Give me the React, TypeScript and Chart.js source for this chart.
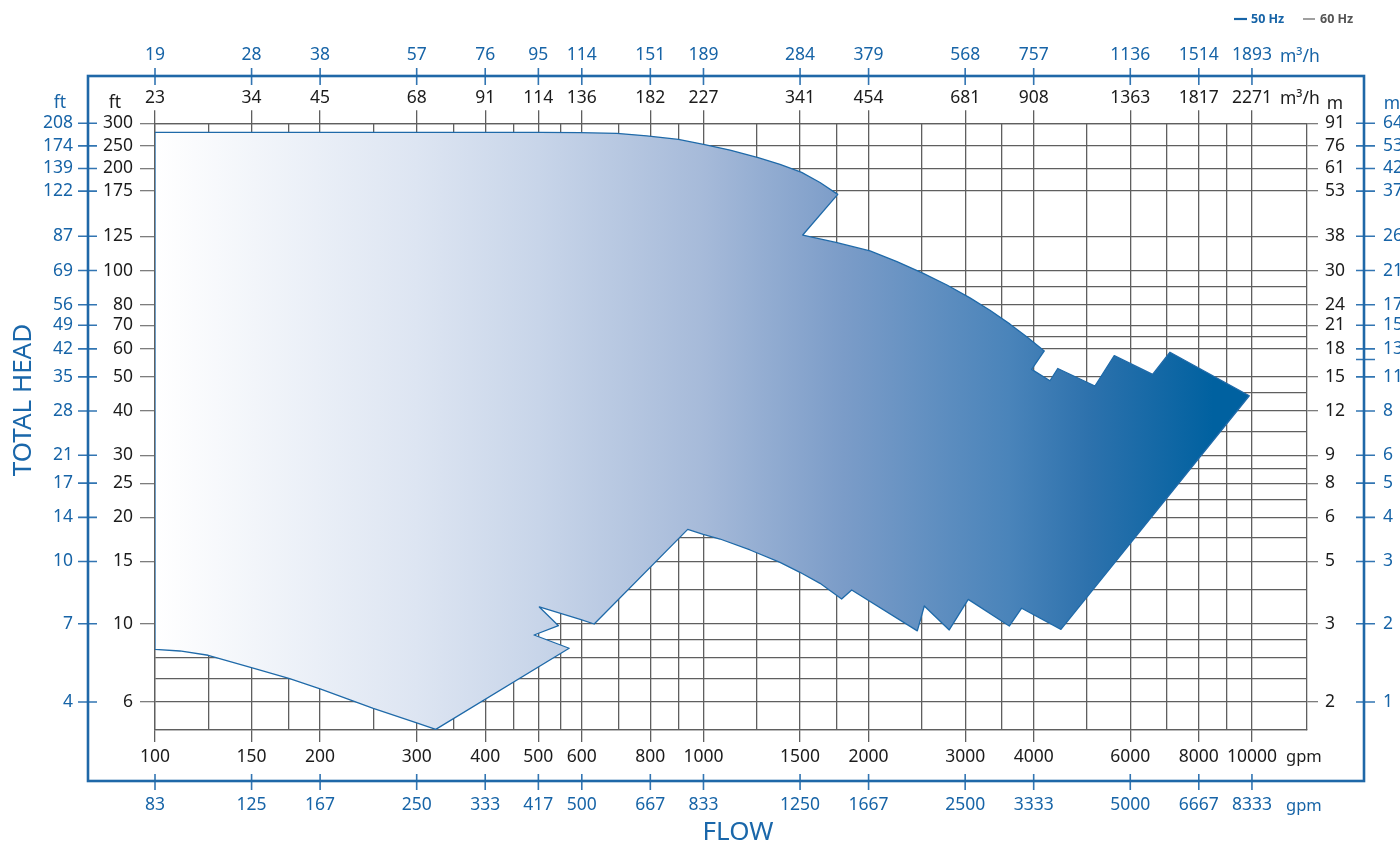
import React, { useEffect, useRef } from 'react';
import { Chart, registerables, LogarithmicScale } from 'chart.js';

// ---------------- data ----------------
// Operating envelope, clockwise, 60 Hz flow in gpm and head in ft
const ENVELOPE_FLOW_GPM = [
  100, 503, 596, 695, 788, 900, 1000, 1118, 1258, 1379, 1510, 1631, 1757,
  1517, 1744, 2012, 2253, 2516, 2779, 3061, 3329, 3622, 3890, 4182,
  3966, 4283, 4425, 5173, 5610, 6590, 7088, 9888, 4485, 3803, 3610, 3039, 2806, 2527,
  2454, 1863, 1786, 1631, 1499, 1379, 1216, 1072, 999, 936, 632, 596, 502, 544, 491,
  569, 325, 300, 250, 200, 176, 151, 125, 111, 100, 100,
];
const ENVELOPE_HEAD_FT = [
  280, 280, 279.2, 277.8, 272.4, 264.4, 253.4, 240.8, 223.8, 209.3, 195.7, 184.5, 171.4,
  126.4, 120.1, 113.6, 106.0, 98.2, 91.0, 83.7, 77.2, 70.5, 64.8, 59.2,
  52.5, 48.75, 52.8, 47.1, 57.4, 50.8, 58.7, 44.2, 9.64, 11.06, 9.85, 11.72, 9.6, 11.22,
  9.54, 12.46, 11.75, 13.01, 13.98, 14.92, 16.17, 17.37, 17.91, 18.5, 9.98, 10.29, 11.15, 9.87, 9.29,
  8.52, 5.02, 5.24, 5.76, 6.54, 6.99, 7.48, 8.14, 8.37, 8.46, 280,
];

// Flow axis
const FLOW_MIN_GPM = 100;
const FLOW_MAX_GPM = 12600;
const FLOW_GRID_GPM = [100, 125, 150, 175, 200, 250, 300, 350, 400, 450, 500, 550, 600, 700, 800, 900,
  1000, 1250, 1500, 1750, 2000, 2500, 3000, 3500, 4000, 5000, 6000, 7000, 8000, 9000, 10000];
const FLOW_TICKS_GPM = [100, 150, 200, 300, 400, 500, 600, 800, 1000, 1500, 2000, 3000, 4000, 6000, 8000, 10000];
const FLOW_LABELS_GPM_60 = ['100', '150', '200', '300', '400', '500', '600', '800', '1000', '1500', '2000', '3000', '4000', '6000', '8000', '10000'];
const FLOW_LABELS_GPM_50 = ['83', '125', '167', '250', '333', '417', '500', '667', '833', '1250', '1667', '2500', '3333', '5000', '6667', '8333'];
const FLOW_LABELS_M3H_60 = ['23', '34', '45', '68', '91', '114', '136', '182', '227', '341', '454', '681', '908', '1363', '1817', '2271'];
const FLOW_LABELS_M3H_50 = ['19', '28', '38', '57', '76', '95', '114', '151', '189', '284', '379', '568', '757', '1136', '1514', '1893'];

// Head axis
const HEAD_MIN_FT = 5;
const HEAD_MAX_FT = 300;
const HEAD_GRID_FT = [5, 6, 7, 8, 9, 10, 12.5, 15, 17.5, 20, 22.5, 25, 27.5, 30, 35, 40, 45, 50, 60, 65, 70, 80, 90, 100, 125, 175, 200, 250, 300];
const HEAD_TICKS_FT = [300, 250, 200, 175, 125, 100, 80, 70, 60, 50, 40, 30, 25, 20, 15, 10, 6];
const HEAD_LABELS_FT_60 = ['300', '250', '200', '175', '125', '100', '80', '70', '60', '50', '40', '30', '25', '20', '15', '10', '6'];
const HEAD_LABELS_FT_50 = ['208', '174', '139', '122', '87', '69', '56', '49', '42', '35', '28', '21', '17', '14', '10', '7', '4'];
const HEAD_LABELS_M_60 = ['91', '76', '61', '53', '38', '30', '24', '21', '18', '15', '12', '9', '8', '6', '5', '3', '2'];
const HEAD_TICKS_M50_FT = [300, 250, 200, 175, 125, 100, 80, 70, 60, 56, 50, 40, 30, 25, 20, 15, 10, 6];
const HEAD_LABELS_M_50 = ['64', '53', '42', '37', '26', '21', '17', '15', '13', '', '11', '8', '6', '5', '4', '3', '2', '1'];

// The printed head axis is logarithmic up to 125 ft, then the stops below are evenly spaced
const HEAD_WARP_STOPS_FT = [125, 150, 175, 200, 250, 300];
const HEAD_WARP_STEP_DEC = 0.064;

// ---------------- styles ----------------
const FONT = '"Noto Sans", "DejaVu Sans", sans-serif';
const BLACK = '#1c1c1c';
const BLUE = '#1764a7';
const BLUE_TICK = '#3275b2';
const GRID = '#5f5f5f';
const TICK_GREY = '#7d7d7d';
const FILL_STOP_GPM = [100, 300, 500, 1000, 1800, 3600, 5000, 8500];
const FILL_STOP_COLOR = ['#ffffff', '#dde5f2', '#c8d5e9', '#a6bad9', '#7b9cc8', '#4a84ba', '#2e72ad', '#0061a0'];

function warpHead(v: number): number {
  const s = HEAD_WARP_STOPS_FT;
  if (v <= s[0]) return Math.log10(v);
  const base = Math.log10(s[0]);
  for (let i = 0; i < s.length - 1; i++) {
    if (v <= s[i + 1] || i === s.length - 2) {
      return base + HEAD_WARP_STEP_DEC * (i + (v - s[i]) / (s[i + 1] - s[i]));
    }
  }
  return Math.log10(v);
}
function unwarpHead(u: number): number {
  const s = HEAD_WARP_STOPS_FT;
  const base = Math.log10(s[0]);
  if (u <= base) return Math.pow(10, u);
  const k = (u - base) / HEAD_WARP_STEP_DEC;
  const i = Math.min(Math.floor(k), s.length - 2);
  return s[i] + (k - i) * (s[i + 1] - s[i]);
}

class WarpedLogScale extends LogarithmicScale {
  static id = 'warpedLog';
  static defaults = {};
  getPixelForValue(value: any) {
    if (value === undefined || value === 0) value = (this as any).min;
    if (value === null || isNaN(value)) return NaN;
    const a = warpHead((this as any).min);
    const b = warpHead((this as any).max);
    return this.getPixelForDecimal((warpHead(value) - a) / (b - a));
  }
  getValueForPixel(pixel: number) {
    const a = warpHead((this as any).min);
    const b = warpHead((this as any).max);
    return unwarpHead(a + this.getDecimalForPixel(pixel) * (b - a));
  }
}

Chart.register(...registerables, WarpedLogScale as any);

function labelFor(ticks: number[], labels: string[]) {
  return (v: any) => {
    const i = ticks.indexOf(Number(v));
    return i >= 0 ? labels[i] : '';
  };
}
function setTicks(values: number[]) {
  return (s: any) => {
    s.ticks = values.map((value) => ({ value }));
  };
}
const tickFont = { family: FONT, size: 17.5 };

function flowAxis(position: string, weight: number, size: number, labels: string[], color: string, padding: number, black: boolean, onArea: boolean) {
  return {
    type: 'logarithmic',
    position,
    weight,
    min: FLOW_MIN_GPM,
    max: FLOW_MAX_GPM,
    afterBuildTicks: setTicks(onArea ? FLOW_GRID_GPM : FLOW_TICKS_GPM),
    afterFit: (s: any) => { s.height = size; },
    ticks: {
      autoSkip: false, maxRotation: 0, minRotation: 0, padding, color, font: tickFont,
      callback: labelFor(FLOW_TICKS_GPM, labels),
    },
    grid: black
      ? {
          display: true,
          drawOnChartArea: onArea,
          color: GRID,
          lineWidth: 1.3,
          tickLength: position === 'top' ? 13 : 12,
          tickColor: (c: any) => (c.tick && FLOW_TICKS_GPM.includes(c.tick.value) ? GRID : 'rgba(0,0,0,0)'),
        }
      : { display: false, drawTicks: false },
    border: black ? { display: true, color: GRID, width: 1.3 } : { display: false },
  };
}

function headAxis(position: string, weight: number, size: number, ticks: number[], labels: string[], color: string, padding: number, black: boolean, onArea: boolean) {
  return {
    type: 'warpedLog',
    position,
    weight,
    min: HEAD_MIN_FT,
    max: HEAD_MAX_FT,
    afterBuildTicks: setTicks(onArea ? HEAD_GRID_FT : ticks),
    afterFit: (s: any) => { s.width = size; },
    ticks: {
      autoSkip: false, padding, color, font: tickFont,
      callback: labelFor(ticks, labels),
    },
    grid: black
      ? {
          display: true,
          drawOnChartArea: onArea,
          color: GRID,
          lineWidth: 1.3,
          tickLength: position === 'left' ? 15 : 11,
          tickColor: (c: any) => (c.tick && ticks.includes(c.tick.value) ? TICK_GREY : 'rgba(0,0,0,0)'),
        }
      : { display: false, drawTicks: false },
    border: black ? { display: true, color: GRID, width: 1.3 } : { display: false },
  };
}

const decorPlugin = {
  id: 'decor',
  afterDraw(chart: any) {
    const { ctx, chartArea: a, scales } = chart;
    const L = scales.yBlue.right;
    const T = scales.xBlueTop.bottom;
    const R = scales.yBlueR.left;
    const B = scales.xBlueBottom.top;
    ctx.save();

    // blue tick marks crossing the frame
    ctx.strokeStyle = BLUE_TICK;
    ctx.lineWidth = 1.6;
    ctx.beginPath();
    for (const t of scales.xBlueTop.ticks) {
      const p = scales.xBlueTop.getPixelForValue(t.value);
      ctx.moveTo(p, T - 8); ctx.lineTo(p, T + 9);
    }
    for (const t of scales.xBlueBottom.ticks) {
      const p = scales.xBlueBottom.getPixelForValue(t.value);
      ctx.moveTo(p, B - 7); ctx.lineTo(p, B + 9);
    }
    for (const t of scales.yBlue.ticks) {
      const p = scales.yBlue.getPixelForValue(t.value);
      ctx.moveTo(L - 10, p); ctx.lineTo(L + 9, p);
    }
    for (const t of scales.yBlueR.ticks) {
      const p = scales.yBlueR.getPixelForValue(t.value);
      ctx.moveTo(R - 8, p); ctx.lineTo(R + 11, p);
    }
    ctx.stroke();

    // frame
    ctx.strokeStyle = '#1f68a8';
    ctx.lineWidth = 2.6;
    ctx.strokeRect(L, T, R - L, B - T);

    // unit labels
    const put = (s: string, x: number, y: number, color: string, font: string, align: CanvasTextAlign = 'left') => {
      ctx.fillStyle = color;
      ctx.font = font;
      ctx.textAlign = align;
      ctx.textBaseline = 'middle';
      ctx.fillText(s, x, y);
    };
    const f17 = `17.5px ${FONT}`;
    put('ft', scales.y.left + 27, a.top - 20, BLACK, f17, 'center');
    put('ft', L - 28, a.top - 20, BLUE, f17, 'center');
    put('m', a.right + 28, a.top - 19, BLACK, f17, 'center');
    put('m', R + 28, a.top - 19, BLUE, f17, 'center');
    put('m³/h', 1280, T - 19, BLUE, f17);
    put('m³/h', 1280, a.top - 24, BLACK, f17);
    put('gpm', 1286, a.bottom + 27, BLACK, `16.5px ${FONT}`);
    put('gpm', 1286, B + 25, BLUE, `16.5px ${FONT}`);

    // axis titles
    const tf = `26px ${FONT}`;
    put('FLOW', 738, 833, '#1a67aa', tf, 'center');
    ctx.save();
    ctx.translate(24, 400);
    ctx.rotate(-Math.PI / 2);
    put('TOTAL HEAD', 0, 0, '#1a67aa', tf, 'center');
    ctx.restore();

    // legend
    ctx.lineWidth = 2.2;
    ctx.strokeStyle = BLUE;
    ctx.beginPath(); ctx.moveTo(1234, 19); ctx.lineTo(1247, 19); ctx.stroke();
    put('50 Hz', 1251, 19, BLUE, `bold 12.5px ${FONT}`);
    ctx.lineWidth = 1.4;
    ctx.strokeStyle = '#777777';
    ctx.beginPath(); ctx.moveTo(1303, 19); ctx.lineTo(1315, 19); ctx.stroke();
    put('60 Hz', 1320, 19, '#555555', `bold 12.5px ${FONT}`);

    ctx.restore();
  },
};

function envelopeFill(c: any) {
  const chart = c.chart;
  const xs = chart.scales && chart.scales.x;
  if (!chart.chartArea || !xs) return '#c8d5e9';
  const x0 = xs.getPixelForValue(FILL_STOP_GPM[0]);
  const x1 = xs.getPixelForValue(FILL_STOP_GPM[FILL_STOP_GPM.length - 1]);
  const g = chart.ctx.createLinearGradient(x0, 0, x1, 0);
  FILL_STOP_GPM.forEach((v, i) => {
    g.addColorStop((xs.getPixelForValue(v) - x0) / (x1 - x0), FILL_STOP_COLOR[i]);
  });
  return g;
}

export default function App() {
  const ref = useRef<HTMLCanvasElement>(null);
  useEffect(() => {
    if (!ref.current) return;
    const chart = new Chart(ref.current, {
      type: 'scatter',
      data: {
        datasets: [
          {
            label: 'Performance range',
            data: ENVELOPE_FLOW_GPM.map((x, i) => ({ x, y: ENVELOPE_HEAD_FT[i] })),
            showLine: true,
            fill: 'shape',
            tension: 0,
            borderColor: '#1f6aa9',
            borderWidth: 1.3,
            borderJoinStyle: 'round',
            pointRadius: 0,
            pointHoverRadius: 0,
            backgroundColor: envelopeFill,
            xAxisID: 'x',
            yAxisID: 'y',
          } as any,
        ],
      },
      options: {
        responsive: false,
        animation: false,
        events: [],
        layout: { padding: 0 },
        plugins: { legend: { display: false }, tooltip: { enabled: false }, title: { display: false } },
        scales: {
          x: flowAxis('bottom', 0, 51, FLOW_LABELS_GPM_60, BLACK, 4.8, true, true),
          xBlueBottom: flowAxis('bottom', 1, 65, FLOW_LABELS_GPM_50, BLUE, 13.3, false, false),
          xTop: flowAxis('top', 0, 47.3, FLOW_LABELS_M3H_60, BLACK, 1.6, true, false),
          xBlueTop: flowAxis('top', 1, 76, FLOW_LABELS_M3H_50, BLUE, 10.3, false, false),
          y: headAxis('left', 0, 67, HEAD_TICKS_FT, HEAD_LABELS_FT_60, BLACK, 7, true, true),
          yBlue: headAxis('left', 1, 88, HEAD_TICKS_FT, HEAD_LABELS_FT_50, BLUE, 15, false, false),
          yM: headAxis('right', 0, 57, HEAD_TICKS_FT, HEAD_LABELS_M_60, BLACK, 7, true, false),
          yBlueR: headAxis('right', 1, 36, HEAD_TICKS_M50_FT, HEAD_LABELS_M_50, BLUE, 19, false, false),
        } as any,
      },
      plugins: [decorPlugin],
    } as any);
    return () => chart.destroy();
  }, []);
  return (
    <div style={{ position: 'fixed', left: 0, top: 0, width: 1400, height: 846, background: '#ffffff' }}>
      <canvas ref={ref} width={1400} height={846} style={{ display: 'block' }} />
    </div>
  );
}
